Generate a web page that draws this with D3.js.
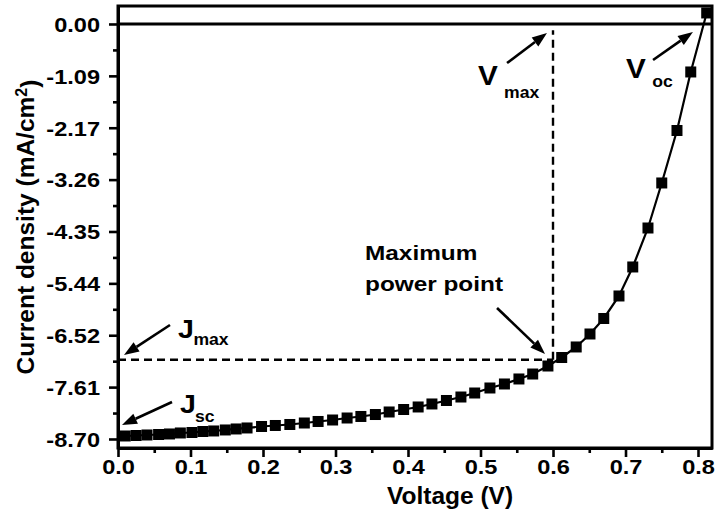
<!DOCTYPE html>
<html>
<head>
<meta charset="utf-8">
<script src="https://cdn.jsdelivr.net/npm/d3@7"></script>
<style>
  body { margin: 0; background: #fff; }
  svg { display: block; }
  text { font-family: "Liberation Sans", Arial, sans-serif; font-weight: bold; fill: #000; }
</style>
</head>
<body>
<svg id="chart" width="715" height="516"></svg>
<script>
// J–V curve of the cell under illumination
const voltage = [
  0.010, 0.025, 0.040, 0.056, 0.071, 0.086, 0.102, 0.117, 0.132, 0.148, 0.163, 0.178,
  0.198, 0.217, 0.237, 0.257, 0.276, 0.296, 0.316, 0.335, 0.355, 0.374, 0.394, 0.414,
  0.433, 0.453, 0.473, 0.492,
  0.513, 0.533, 0.553, 0.572, 0.593, 0.612, 0.632, 0.651, 0.670, 0.691, 0.710, 0.731,
  0.750, 0.771, 0.790, 0.812
];
const currentDensity = [
  -8.637, -8.627, -8.616, -8.606, -8.595, -8.574, -8.564, -8.543, -8.532, -8.511, -8.490, -8.469,
  -8.438, -8.417, -8.396, -8.365, -8.333, -8.302, -8.260, -8.228, -8.187, -8.134, -8.082, -8.029,
  -7.966, -7.893, -7.820, -7.736,
  -7.631, -7.547, -7.442, -7.338, -7.170, -6.992, -6.771, -6.499, -6.174, -5.702, -5.094, -4.277,
  -3.333, -2.233, -1.006, 0.231
];

// axis ticks
const xTickValues = [0, 0.1, 0.2, 0.3, 0.4, 0.5, 0.6, 0.7, 0.8];
const xTickLabels = ["0.0", "0.1", "0.2", "0.3", "0.4", "0.5", "0.6", "0.7", "0.8"];
const xMinorTicks = [0.05, 0.15, 0.25, 0.35, 0.45, 0.55, 0.65, 0.75];
const yTickValues = [0, -1.0875, -2.175, -3.2625, -4.35, -5.4375, -6.525, -7.6125, -8.7];
const yTickLabels = ["0.00", "-1.09", "-2.17", "-3.26", "-4.35", "-5.44", "-6.52", "-7.61", "-8.70"];
const yMinorTicks = [-0.54375, -1.63125, -2.71875, -3.80625, -4.89375, -5.98125, -7.06875, -8.15625];

// maximum power point
const vMax = 0.6;
const jMax = -7.04;

const svg = d3.select("#chart");
const x = d3.scaleLinear().domain([0, 0.8193]).range([118, 712]);
const y = d3.scaleLinear().domain([0.377, -8.889]).range([6, 448]);
const K = 1.15; // horizontal widening of the bold labels

// frame
svg.append("rect")
  .attr("x", x.range()[0]).attr("y", y.range()[0])
  .attr("width", x.range()[1] - x.range()[0])
  .attr("height", y.range()[1] - y.range()[0])
  .attr("fill", "#fff").attr("stroke", "#000").attr("stroke-width", 3);

// zero-current line
svg.append("line")
  .attr("x1", x.range()[0]).attr("x2", x.range()[1])
  .attr("y1", y(0)).attr("y2", y(0))
  .attr("stroke", "#000").attr("stroke-width", 3);

// guide lines to the maximum power point
const dash = "8,5";
svg.append("line")
  .attr("x1", x.range()[0]).attr("x2", x(vMax))
  .attr("y1", y(jMax)).attr("y2", y(jMax))
  .attr("stroke", "#000").attr("stroke-width", 2.4).attr("stroke-dasharray", dash);
svg.append("line")
  .attr("x1", x(vMax)).attr("x2", x(vMax))
  .attr("y1", y(jMax)).attr("y2", y(-0.13))
  .attr("stroke", "#000").attr("stroke-width", 2.4).attr("stroke-dasharray", dash);

// axes
function styleAxis(g) {
  g.select(".domain").attr("stroke-width", 3).attr("stroke", "#000");
  g.selectAll(".tick line").attr("stroke-width", 2.6).attr("stroke", "#000");
}
const gxMinor = svg.append("g").attr("transform", `translate(0,${y.range()[1]})`)
  .call(d3.axisBottom(x).tickValues(xMinorTicks).tickFormat("").tickSize(5).tickSizeOuter(0));
styleAxis(gxMinor);
const gx = svg.append("g").attr("transform", `translate(0,${y.range()[1]})`)
  .call(d3.axisBottom(x).tickValues(xTickValues).tickFormat((d, i) => xTickLabels[i]).tickSize(9).tickSizeOuter(0));
styleAxis(gx);
gx.selectAll(".tick text")
  .attr("y", null).attr("dy", null)
  .attr("transform", `translate(0,26) scale(${K},1)`)
  .style("font-size", "20.5px").attr("text-anchor", "middle");

const gyMinor = svg.append("g").attr("transform", `translate(${x.range()[0]},0)`)
  .call(d3.axisLeft(y).tickValues(yMinorTicks).tickFormat("").tickSize(5).tickSizeOuter(0));
styleAxis(gyMinor);
const gy = svg.append("g").attr("transform", `translate(${x.range()[0]},0)`)
  .call(d3.axisLeft(y).tickValues(yTickValues).tickFormat((d, i) => yTickLabels[i]).tickSize(9).tickSizeOuter(0));
styleAxis(gy);
gy.selectAll(".tick text")
  .attr("x", null).attr("dy", "0.36em")
  .attr("transform", `translate(-18,0) scale(${K},1)`)
  .style("font-size", "20.5px").attr("text-anchor", "end");

// axis titles
svg.append("text")
  .attr("x", (x.range()[0] + x.range()[1]) / 2 + 35).attr("y", 504)
  .attr("text-anchor", "middle").style("font-size", "24.5px")
  .text("Voltage (V)");
const yTitle = svg.append("text")
  .attr("transform", `translate(34,${(y.range()[0] + y.range()[1]) / 2}) rotate(-90)`)
  .attr("text-anchor", "middle").style("font-size", "24.5px");
yTitle.append("tspan").text("Current density (mA/cm");
yTitle.append("tspan").attr("dy", "-0.45em").style("font-size", "16px").text("2");
yTitle.append("tspan").attr("dy", "0.45em").text(")");

// curve and markers
const pts = voltage.map((v, i) => [v, currentDensity[i]]);
svg.append("path")
  .datum(pts)
  .attr("fill", "none").attr("stroke", "#000").attr("stroke-width", 2.2)
  .attr("d", d3.line().x(d => x(d[0])).y(d => y(d[1])));
const S = 11;
svg.append("g").selectAll("rect").data(pts).join("rect")
  .attr("x", d => x(d[0]) - S / 2).attr("y", d => y(d[1]) - S / 2)
  .attr("width", S).attr("height", S).attr("fill", "#000");

// annotations
function arrow(v1, j1, v2, j2) {
  const X1 = x(v1), Y1 = y(j1), X2 = x(v2), Y2 = y(j2);
  const a = Math.atan2(Y2 - Y1, X2 - X1), L = 15, w = 5.5;
  const bx = X2 - L * Math.cos(a), by = Y2 - L * Math.sin(a);
  svg.append("line").attr("x1", X1).attr("y1", Y1).attr("x2", bx).attr("y2", by)
    .attr("stroke", "#000").attr("stroke-width", 2.6);
  svg.append("polygon")
    .attr("points", [[X2, Y2], [bx + w * Math.sin(a), by - w * Math.cos(a)], [bx - w * Math.sin(a), by + w * Math.cos(a)]].map(p => p.join(",")).join(" "))
    .attr("fill", "#000");
}
function label(v, j, str, size, k) {
  return svg.append("text")
    .attr("transform", `translate(${x(v)},${y(j)}) scale(${k},1)`)
    .style("font-size", size + "px").text(str);
}

label(0.3407, -4.948, "Maximum", 21, 1.16);
label(0.3407, -5.597, "power point", 21, 1.16);
arrow(0.5228, -5.954, 0.589, -6.918);

label(0.4966, -1.279, "V", 27, 1.1);
label(0.5325, -1.560, "max", 16, 1.1);
arrow(0.5366, -0.818, 0.5917, -0.189);

label(0.7007, -1.132, "V", 27, 1.1);
label(0.7370, -1.321, "oc", 16, 1.1);
arrow(0.738, -0.755, 0.793, -0.168);

label(0.0828, -6.583, "J", 26, 1.1);
label(0.1040, -6.730, "max", 16, 1.1);
arrow(0.0717, -6.31, 0.0083, -6.94);

label(0.0855, -8.155, "J", 26, 1.1);
label(0.1062, -8.344, "sc", 16, 1.1);
arrow(0.0745, -7.925, 0.0055, -8.407);
</script>
</body>
</html>
